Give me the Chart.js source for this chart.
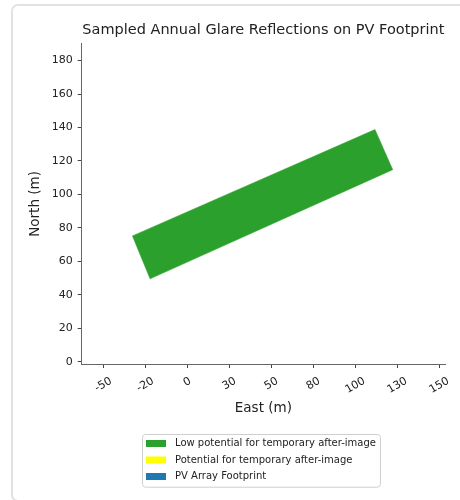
<!DOCTYPE html>
<html>
<head>
<meta charset="utf-8">
<script src="https://cdn.jsdelivr.net/npm/chart.js@4.4.0/dist/chart.umd.min.js"></script>
<style>
  html, body { margin: 0; padding: 0; background: #fff; }
  body { width: 460px; height: 500px; position: relative; overflow: hidden; }
  .card { position: absolute; left: 11px; top: 4px; width: 520px; height: 494px; border: 2px solid #e2e2e2; border-radius: 7px; }
  #glareChart { position: absolute; left: 0; top: 0; }
</style>
</head>
<body>
<div class="card"></div>
<canvas id="glareChart" width="460" height="500"></canvas>
<script>
// polygon corners (closed ring)
const lowPotentialEast = [-32.7, -22.2, 122.3, 111.7, -32.7];
const lowPotentialNorth = [75.2, 49.5, 114.8, 138.8, 75.2];
const potentialEast = [];
const potentialNorth = [];
const footprintEast = [];
const footprintNorth = [];

const seriesNames = ['Low potential for temporary after-image', 'Potential for temporary after-image', 'PV Array Footprint'];
const seriesColors = ['#2ca02c', '#ffff00', '#1f77b4'];
const seriesEast = [lowPotentialEast, potentialEast, footprintEast];
const seriesNorth = [lowPotentialNorth, potentialNorth, footprintNorth];

const xTickValues = [-50, -25, 0, 25, 50, 75, 100, 125, 150];
const xTickLabels = ['-50', '-20', '0', '30', '50', '80', '100', '130', '150'];
const yTickValues = [0, 20, 40, 60, 80, 100, 120, 140, 160, 180];

const fontFamily = "'DejaVu Sans', sans-serif";
const textColor = '#222';

// matplotlib-style rotated labels, centred under each tick
const eastTickLabels = {
  id: 'eastTickLabels',
  afterDraw(chart) {
    const { ctx } = chart;
    const x = chart.scales.x;
    const a = 30 * Math.PI / 180;
    const h = 11 * 1.1;
    ctx.save();
    ctx.font = `11px ${fontFamily}`;
    ctx.fillStyle = textColor;
    ctx.textAlign = 'center';
    ctx.textBaseline = 'middle';
    xTickValues.forEach((v, i) => {
      const w = ctx.measureText(xTickLabels[i]).width;
      const boxH = w * Math.sin(a) + h * Math.cos(a);
      ctx.save();
      ctx.translate(x.getPixelForValue(v), x.top + 11 + boxH / 2);
      ctx.rotate(-a);
      ctx.fillText(xTickLabels[i], 0, 0);
      ctx.restore();
    });
    ctx.restore();
  }
};

const legendBox = {
  id: 'legendBox',
  afterDraw(chart) {
    const { ctx, chartArea } = chart;
    ctx.save();
    ctx.font = `10px ${fontFamily}`;
    const textW = Math.max(...seriesNames.map(n => ctx.measureText(n).width));
    const rowH = 16.5, pad = 4, swW = 20, swH = 7, gap = 9;
    const boxW = pad + swW + gap + textW + pad;
    const boxH = 52.7;
    const left = Math.round((chartArea.left + chartArea.right) / 2 - boxW / 2) - 2;
    const top = Math.round(chartArea.bottom + 70);
    ctx.beginPath();
    ctx.roundRect(left + 0.5, top + 0.5, boxW, boxH, 3);
    ctx.fillStyle = 'rgba(255,255,255,0.8)';
    ctx.fill();
    ctx.strokeStyle = '#cfcfcf';
    ctx.lineWidth = 1;
    ctx.stroke();
    ctx.textAlign = 'left';
    ctx.textBaseline = 'middle';
    seriesNames.forEach((name, i) => {
      const cy = top + 9.5 + i * rowH;
      ctx.fillStyle = seriesColors[i];
      ctx.fillRect(left + pad, cy - swH / 2, swW, swH);
      ctx.fillStyle = textColor;
      ctx.fillText(name, left + pad + swW + gap, cy);
    });
    ctx.restore();
  }
};

new Chart(document.getElementById('glareChart'), {
  type: 'line',
  data: {
    datasets: seriesNames.map((name, i) => ({
      label: name,
      data: seriesEast[i].map((x, j) => ({ x, y: seriesNorth[i][j] })),
      fill: 'shape',
      backgroundColor: seriesColors[i],
      borderColor: seriesColors[i],
      borderWidth: 0.5,
      pointRadius: 0,
      tension: 0
    }))
  },
  options: {
    responsive: false,
    animation: false,
    layout: { padding: { left: 0, right: 15, top: 0, bottom: 0 } },
    plugins: {
      legend: { display: false },
      tooltip: { enabled: false },
      title: {
        display: true,
        fullSize: false,
        text: 'Sampled Annual Glare Reflections on PV Footprint',
        color: textColor,
        font: { family: fontFamily, size: 14.5, weight: 'normal' },
        padding: { top: 22, bottom: 4.5 }
      }
    },
    scales: {
      x: {
        type: 'linear',
        min: -62.9,
        max: 153.4,
        afterBuildTicks: s => { s.ticks = xTickValues.map(v => ({ value: v })); },
        afterFit: s => { s.height = 136; },
        grid: { drawOnChartArea: false, drawTicks: true, tickLength: 4, color: '#444' },
        border: { color: '#666', width: 1 },
        ticks: { display: false },
        title: {
          display: true,
          text: 'East (m)',
          color: textColor,
          font: { family: fontFamily, size: 13.5 },
          padding: { top: 0, bottom: 83.5 }
        }
      },
      y: {
        type: 'linear',
        min: -1.4,
        max: 190,
        afterBuildTicks: s => { s.ticks = yTickValues.map(v => ({ value: v })); },
        afterFit: s => { s.width = 81.7; },
        grid: { drawOnChartArea: false, drawTicks: true, tickLength: 4, color: '#444' },
        border: { color: '#666', width: 1 },
        ticks: { color: textColor, font: { family: fontFamily, size: 11 }, padding: 5 },
        title: {
          display: true,
          text: 'North (m)',
          color: textColor,
          font: { family: fontFamily, size: 13.5 },
          padding: { top: 27, bottom: 0 }
        }
      }
    }
  },
  plugins: [eastTickLabels, legendBox]
});
</script>
</body>
</html>
